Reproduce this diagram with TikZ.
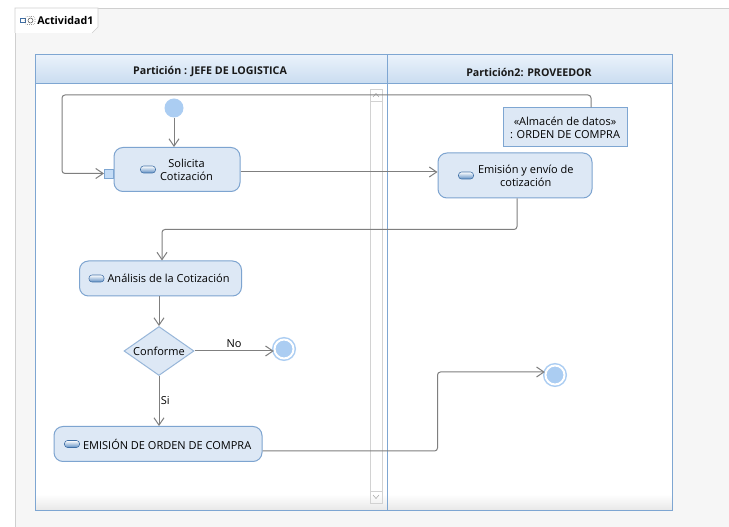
\documentclass[tikz,border=0pt]{standalone}
\usepackage{fontspec}
\setmainfont{Open Sans}
\usetikzlibrary{arrows.meta,positioning,shapes.geometric}
\newlength\px
\setlength\px{0.75pt}
\definecolor{framec}{HTML}{F6F6F6}
\definecolor{framel}{HTML}{CFCFCF}
\definecolor{lanec}{HTML}{7EA6D2}
\definecolor{headtop}{HTML}{EAF2FB}
\definecolor{headbot}{HTML}{C9DCF0}
\definecolor{actfill}{HTML}{DDE8F5}
\definecolor{actline}{HTML}{7DA4D0}
\definecolor{icofill}{HTML}{5F8FC4}
\definecolor{icoline}{HTML}{3F6FA6}
\definecolor{dotc}{HTML}{ABCDF2}
\definecolor{flowc}{HTML}{7F7F7F}
\definecolor{scrollc}{HTML}{D2D2D2}

\begin{document}
\begin{tikzpicture}[x=\px,y=-\px,>={Straight Barb[length=5.5pt,width=7.5pt]},font=\fontsize{8.25}{9.75}\selectfont]
\tikzstyle{action}=[draw=actline,fill=actfill,rounded corners=9\px,line width=0.75pt,inner sep=0pt]
\tikzstyle{icon}=[draw=icoline,top color=white,bottom color=icofill,rounded corners=3\px,minimum width=15\px,minimum height=7\px,inner sep=0pt]
\tikzstyle{txt}=[align=center,inner sep=0pt]
\tikzstyle{store}=[draw=lanec,fill=actfill,line width=0.75pt,align=center,inner sep=0pt]
\tikzstyle{decision}=[diamond,draw=actline!80,fill=actfill,line width=0.75pt,minimum width=70\px,minimum height=49\px,inner sep=0pt]
\tikzstyle{pinbox}=[draw=lanec,fill=dotc!70,minimum size=9\px,inner sep=0pt]
\tikzstyle{startdot}=[circle,fill=dotc,minimum size=19\px,inner sep=0pt]
\tikzstyle{final}=[circle,fill=dotc,draw=dotc,double=white,double distance=2\px,line width=1.5\px,minimum size=19\px,inner sep=0pt]
\tikzstyle{flow}=[->,draw=flowc,line width=0.75pt,rounded corners=3\px]
\tikzstyle{lanehead}=[font=\fontsize{8}{9}\selectfont\bfseries,text=black!90]

% fondo y marco
\fill[white] (0,0) rectangle (729,527);
\useasboundingbox (0,0) rectangle (729,527);
\fill[framec] (15,8) rectangle (729,527);
\draw[framel] (15,527) -- (15,8) -- (729,8);
\filldraw[fill=white,draw=framel] (15,33) -- (15,8) -- (98,8) -- (98,27) -- (92,33);
\draw[icoline,fill=white] (20,18.5) rectangle (25,22.5);
\draw[black!65,densely dotted,rounded corners=2\px] (25,16.5) rectangle (35,24.5);
\draw[black!65] (30.5,20.5) circle (2.5\px);
\node[anchor=west,inner sep=0pt,font=\fontsize{8}{9}\selectfont\bfseries] (act) at (37,20.5) {Actividad1};

% particiones
\fill[white] (35,55) rectangle (672,510);
\shade[top color=white,bottom color=black!9] (35,494) rectangle (672,510);
\shade[top color=headtop,bottom color=headbot] (35,55) rectangle (672,84);
\draw[lanec,line width=0.75pt] (35,55) rectangle (672,510);
\draw[lanec,line width=0.75pt] (35,84) -- (672,84);
\draw[lanec,line width=0.75pt] (387,55) -- (387,510);
\node[lanehead] (jefe) at (210,72) {Partición : JEFE DE LOGISTICA};
\node[lanehead] (prov) at (529,72) {Partición2: PROVEEDOR};

% barra de desplazamiento
\draw[scrollc] (370,89) rectangle (382,503);
\draw[scrollc] (370,101) -- (382,101);
\draw[scrollc] (370,491) -- (382,491);
\draw[black!35] (373,97) -- (376,93.5) -- (379,97);
\draw[black!35] (373,495) -- (376,498.5) -- (379,495);

% nodos
\node[startdot] (ini) at (174,108) {};
\node[action,minimum width=126\px,minimum height=44\px] (sol) at (177,169.5) {};
\node[pinbox,anchor=east] (solpin) at ([yshift=-4\px]sol.west) {};
\node[icon] (solico) at (148,169.5) {};
\node[txt,right=4\px of solico] (soltxt) {Solicita\\Cotización};

\node[store,minimum width=124\px,minimum height=39\px] (alm) at (565,127.5) {«Almacén de datos»\\: ORDEN DE COMPRA};
\node[action,minimum width=154\px,minimum height=45\px] (emi) at (515,175.5) {};
\node[icon] (emiico) at (466,175.5) {};
\node[txt,right=4\px of emiico] (emitxt) {Emisión y envío de\\cotización};

\node[action,minimum width=162\px,minimum height=35\px] (ana) at (160.5,278.5) {};
\node[icon] (anaico) at (96.5,278.5) {};
\node[txt,right=3\px of anaico] (anatxt) {Análisis de la Cotización};

\node[decision,label={center:Conforme}] (conf) at (159,351) {};
\node[final] (fin1) at (284,349) {};

\node[action,minimum width=208\px,minimum height=35\px] (emo) at (158,444) {};
\node[icon] (emoico) at (72,444) {};
\node[txt,right=3\px of emoico] (emotxt) {EMISIÓN DE ORDEN DE COMPRA};
\node[final] (fin2) at (555,375) {};

% flujos
\coordinate (vuelta) at (62,95);
\draw[flow] (ini) -- (ini |- sol.north);
\draw[flow] ([xshift=26\px]alm.north) |- (vuelta) |- (solpin.west);
\draw[flow] ([yshift=-2.5\px]sol.east) -- ([yshift=-2.5\px]sol.east -| emi.west);
\draw[flow] ([xshift=2\px]emi.south) -- ++(0,31) -| ([xshift=1.5\px]ana.north);
\draw[flow] (ana.south -| conf) -- (conf.north);
\draw[flow] (conf.east) -- node[above,inner sep=2pt] {No} (conf.east -| fin1.west);
\draw[flow] (conf.south) -- node[right,inner sep=1pt] {Si} (conf.south |- emo.north);
\draw[flow] ([yshift=-7\px]emo.east) -- ++(175,0) |- ([yshift=3\px]fin2.west);
\end{tikzpicture}
\end{document}
